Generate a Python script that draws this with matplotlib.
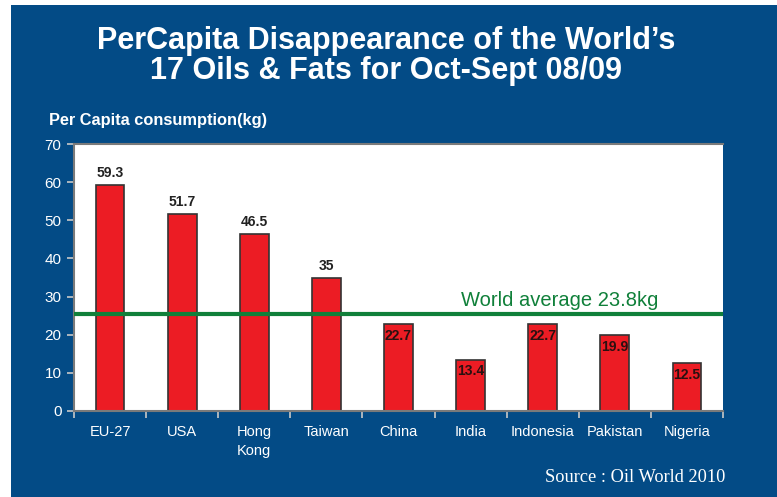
import matplotlib
matplotlib.use("Agg")
import matplotlib.pyplot as plt
from matplotlib.patches import Rectangle
import numpy as np

categories = ["EU-27", "USA", "Hong\nKong", "Taiwan", "China", "India", "Indonesia", "Pakistan", "Nigeria"]
values = [59.3, 51.7, 46.5, 35, 22.7, 13.4, 22.7, 19.9, 12.5]
value_labels = ["59.3", "51.7", "46.5", "35", "22.7", "13.4", "22.7", "19.9", "12.5"]
world_avg_level = 25.3
world_avg_text = "World average 23.8kg"
yticks = [0, 10, 20, 30, 40, 50, 60, 70]

BLUE = "#034b86"
RED = "#ec1c24"
GREEN = "#10803a"

fig = plt.figure(figsize=(7.77, 4.97), dpi=100)
fig.patch.set_facecolor("white")
fig.patches.append(Rectangle((11/777, 0), 1 - 11/777, 1 - 5/497, transform=fig.transFigure,
                             facecolor=BLUE, edgecolor="none", zorder=-10))

ax = fig.add_axes([74/777, 86/497, 649/777, 267/497])
ax.set_facecolor("white")
x = np.arange(len(categories))
ax.bar(x, values, width=0.4, color=RED, edgecolor="#333333", linewidth=1.2, zorder=2)
ax.set_xlim(-0.5, len(categories) - 0.5)
ax.set_ylim(0, 70)

ax.axhline(world_avg_level, color=GREEN, linewidth=3, zorder=3)
ax.text(6.23, world_avg_level + 1.3, world_avg_text, color=GREEN, fontsize=14.5,
        family="Liberation Sans", ha="center", va="bottom", zorder=4)

for xi, v, lab in zip(x, values, value_labels):
    if v > world_avg_level:
        ax.text(xi, v + 1.2, lab, ha="center", va="bottom", fontsize=10, fontweight="bold",
                color="#222222", family="Liberation Sans", zorder=5)
    else:
        ax.text(xi, v - 1.2, lab, ha="center", va="top", fontsize=10, fontweight="bold",
                color="#2a1010", family="Liberation Sans", zorder=5)

ax.set_xticks(x)
ax.set_xticklabels(categories, color="white", fontsize=10.5, family="Liberation Sans",
                   linespacing=1.5)
ax.set_xticks(np.arange(-0.5, len(categories), 1.0), minor=True)
ax.tick_params(axis="x", which="major", length=0, pad=10)
ax.tick_params(axis="x", which="minor", length=5, width=1.2, color="#c8c8c8", direction="out")
ax.set_yticks(yticks)
ax.set_yticklabels([str(t) for t in yticks], color="white", fontsize=11, family="Liberation Sans")
ax.tick_params(axis="y", length=5, width=1.2, color="#c8c8c8", direction="out", pad=4)
for s in ["left", "bottom", "top"]:
    ax.spines[s].set_color("#7a7a7a")
    ax.spines[s].set_linewidth(1.5)
ax.spines["right"].set_visible(False)

fig.text(386/777, 1 - 56/497, "PerCapita Disappearance of the World\u2019s\n17 Oils & Fats for Oct-Sept 08/09",
         ha="center", va="center", color="white", fontsize=22, fontweight="bold",
         family="Liberation Sans", linespacing=1.0)
fig.text(49/777, 1 - 120/497, "Per Capita consumption(kg)", ha="left", va="center", color="white",
         fontsize=11.75, fontweight="bold", family="Liberation Sans")
fig.text(725/777, 1 - 478/497, "Source : Oil World 2010", ha="right", va="center", color="white",
         fontsize=13.2, family="Liberation Serif")

fig.savefig("out.png", dpi=100, facecolor=fig.get_facecolor())
